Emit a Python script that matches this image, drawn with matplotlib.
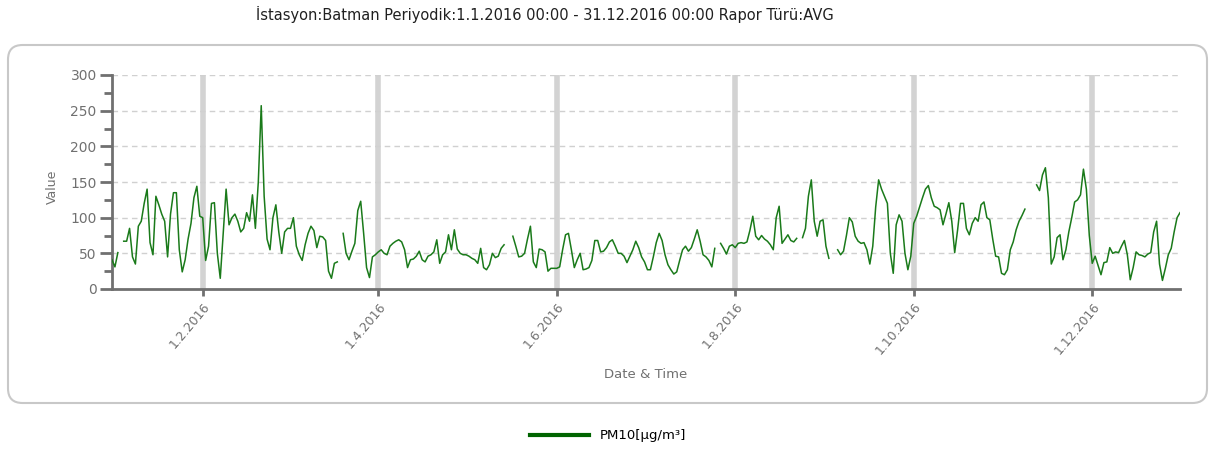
import numpy as np
import pandas as pd
import matplotlib
matplotlib.use("Agg")
import matplotlib.pyplot as plt
from matplotlib.patches import FancyBboxPatch
from matplotlib.lines import Line2D

N = None
jan = [41, 31, 51, N, 67, 67, 85, 45, 35, 88, 95, 120, 140, 65, 48, 130, 118, 105, 95, 45,
       105, 135, 135, 55, 24, 41, 70, 92, 128, 144, 102]
feb = [100, 40, 60, 120, 121, 50, 15, 78, 140, 90, 100, 105, 95, 80, 85, 107, 95, 132, 85,
       150, 257, 130, 70, 55, 100, 118, 80, 50, 80]
mar = [85, 85, 100, 60, 48, 40, 62, 78, 88, 82, 58, 74, 73, 68, 25, 15, 36, 38, N, 78, 50,
       41, 53, 64, 110, 123, 78, 30, 16, 45, 48]
apr = [52, 55, 50, 48, 60, 64, 67, 69, 66, 55, 30, 41, 42, 46, 53, 41, 38, 46, 48, 52, 69,
       36, 48, 52, 76, 55, 83, 56, 50, 48]
may = [48, 46, 43, 41, 36, 57, 30, 27, 34, 50, 44, 46, 57, 62, N, N, 74, 60, 45, 46, 50, 70,
       88, 38, 30, 56, 55, 52, 25, 29, 29]
jun = [29, 31, 55, 76, 78, 55, 30, 41, 50, 27, 28, 30, 40, 68, 68, 52, 53, 58, 66, 69, 60,
       50, 50, 46, 37, 46, 55, 67, 58, 45]
jul = [38, 27, 27, 45, 65, 78, 68, 48, 34, 27, 21, 24, 40, 55, 60, 53, 58, 70, 83, 67, 48,
       45, 40, 31, 57, N, 64, 57, 49, 60, 62]
aug = [58, 64, 65, 64, 66, 82, 102, 74, 69, 75, 70, 67, 62, 55, 100, 116, 64, 70, 76, 68,
       66, 71, N, 72, 85, 130, 153, 95, 74, 95, 97]
sep = [60, 43, N, N, 55, 48, 53, 75, 100, 94, 74, 67, 64, 65, 55, 35, 60, 115, 153, 140,
       130, 120, 50, 22, 90, 104, 95, 50, 27, 46]
oct_ = [92, 102, 115, 128, 140, 145, 128, 116, 114, 111, 90, 105, 121, 95, 51, 83, 120,
        120, 85, 76, 92, 100, 95, 118, 122, 100, 97, 70, 46, 45, 22]
nov = [20, 27, 55, 66, 83, 95, 103, 112, N, N, N, 146, 138, 160, 170, 128, 35, 45, 72, 76,
       41, 55, 80, 100, 122, 125, 132, 168, 140, 75]
dec = [36, 46, 33, 20, 37, 38, 58, 50, 52, 51, 60, 68, 48, 13, 30, 52, 48, 47, 45, 49, 51,
       80, 95, 35, 12, 29, 48, 57, 80, 100, 107]

pm10 = np.array([np.nan if v is None else v
                 for v in jan + feb + mar + apr + may + jun + jul + aug + sep + oct_ + nov + dec],
                dtype=float)
dates = pd.date_range("2016-01-01", periods=len(pm10), freq="D")

tick_dates = pd.to_datetime(["2016-02-01", "2016-04-01", "2016-06-01",
                             "2016-08-01", "2016-10-01", "2016-12-01"])
tick_labels = ["1.2.2016", "1.4.2016", "1.6.2016", "1.8.2016", "1.10.2016", "1.12.2016"]
y_ticks = [0, 50, 100, 150, 200, 250, 300]

title = "İstasyon:Batman Periyodik:1.1.2016 00:00 - 31.12.2016 00:00 Rapor Türü:AVG"
series_name = "PM10[µg/m³]"

W, H = 1215, 451
fig = plt.figure(figsize=(W / 100, H / 100), dpi=100)
fig.patch.set_facecolor("white")

# rounded frame around chart
frame = FancyBboxPatch((8 / W, 1 - 403 / H), (1207 - 8) / W, (403 - 45) / H,
                       boxstyle="round,pad=0,rounding_size=0.012",
                       transform=fig.transFigure, facecolor="none",
                       edgecolor="#c8c8c8", linewidth=1.5, mutation_aspect=W / H,
                       zorder=-1)
fig.patches.append(frame)

ax = fig.add_axes([112 / W, 1 - 289 / H, (1180 - 112) / W, (289 - 75) / H])
ax.set_facecolor("none")
ax.set_zorder(2)

# vertical month lines
for d in tick_dates:
    ax.axvline(d, color="#d3d3d3", lw=4, zorder=1)
# horizontal dashed grid
for v in y_ticks[1:]:
    ax.axhline(v, color="#d0d0d0", lw=1, ls=(0, (4, 3)), zorder=1)

ax.plot(dates, pm10, color="#1a7a1a", lw=1.1, zorder=3)

ax.set_xlim(dates[0], dates[-1])
ax.set_ylim(0, 300)
ax.set_yticks(y_ticks)
ax.set_yticks(np.arange(25, 300, 50), minor=True)
ax.set_xticks(tick_dates)
ax.set_xticklabels(tick_labels, rotation=50, ha="right", va="top",
                   rotation_mode="anchor", fontsize=9, color="#707070")
ax.tick_params(axis="y", which="major", length=9, width=2, color="#707070",
               labelsize=10, labelcolor="#707070", pad=2)
ax.tick_params(axis="y", which="minor", length=6, width=2, color="#707070")
ax.tick_params(axis="x", which="major", length=5, width=2, color="#707070", pad=3)

for s in ["top", "right"]:
    ax.spines[s].set_visible(False)
for s in ["left", "bottom"]:
    ax.spines[s].set_color("#707070")
    ax.spines[s].set_linewidth(2)

fig.text(52 / W, 1 - 187 / H, "Value", rotation=90, ha="center", va="center",
         fontsize=9, color="#707070")
fig.text(646 / W, 1 - 375 / H, "Date & Time", ha="center", va="center",
         fontsize=9.5, color="#707070")
fig.text(545 / W, 1 - 14 / H, title, ha="center", va="center", fontsize=10.5,
         color="#202020")

handle = Line2D([], [], color="#006400", lw=3)
fig.legend([handle], [series_name], loc="center", bbox_to_anchor=(608 / W, 1 - 436 / H),
           frameon=False, fontsize=9.5, handlelength=4.5, handletextpad=0.8)

fig.savefig("out.png", dpi=100, facecolor="white")
